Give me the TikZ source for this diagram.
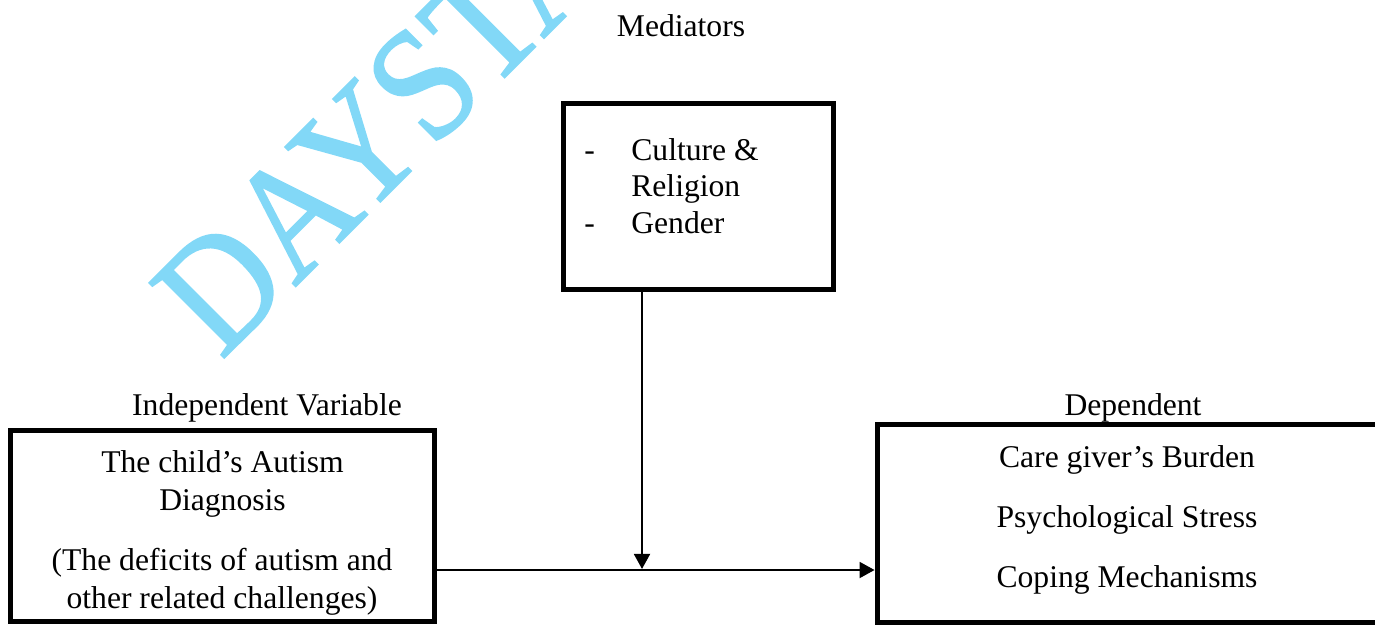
\documentclass[tikz,border=0pt]{standalone}
\usepackage{fontspec}
\usepackage{graphicx}
\setmainfont{Liberation Serif}
\newfontfamily\wmfont[FakeBold=1.2]{Liberation Serif}
\usetikzlibrary{arrows.meta}
\definecolor{wmblue}{RGB}{130,216,247}
\tikzset{
  box/.style={draw=black, line width=2.85pt, rectangle, inner sep=0pt},
  txt/.style={font=\fontsize{18}{21.6}\selectfont, inner sep=0pt, anchor=base},
  txtl/.style={txt, anchor=base west},
  conn/.style={draw=black, line width=1.1pt, -{Triangle[length=3mm,width=3.2mm]}},
  wm/.style={text=wmblue, inner sep=0pt, anchor=base west, rotate=45,
    font=\wmfont\fontsize{92}{100}\selectfont}
}
\begin{document}
\begin{tikzpicture}[x=0.02cm, y=-0.02cm]
\useasboundingbox (0,0) rectangle (1375,625);
% watermark
\node[wm] (wmark) at (221,361) {\scalebox{0.89}[1]{DAYSTA}};
% boxes
\node[box, minimum width=5.42cm, minimum height=3.74cm] (med) at (698.5,196.5) {};
\node[box, minimum width=8.5cm, minimum height=3.84cm] (indep) at (222.5,526) {};
\node[box, minimum width=10.04cm, minimum height=3.98cm] (dep) at (1128,523.5) {};
% titles
\node[txt] (tmed) at (681,37) {Mediators};
\node[txt] (tind) at (267,415) {Independent Variable};
\node[txt] (tdep) at (1133,415) {Dependent};
% mediator contents
\node[txtl] (d1) at (584,160) {-};
\node[txtl] (m1) at (631,160) {Culture \&};
\node[txtl] (m2) at (631,196) {Religion};
\node[txtl] (d2) at (584,233) {-};
\node[txtl] (m3) at (631,233) {Gender};
% independent contents
\node[txt] (i1) at (222.5,472) {The child’s Autism};
\node[txt] (i2) at (222.5,510) {Diagnosis};
\node[txt] (i3) at (222,570) {(The deficits of autism and};
\node[txt] (i4) at (222,608) {other related challenges)};
% dependent contents
\node[txt] (o1) at (1127,467) {Care giver’s Burden};
\node[txt] (o2) at (1127,527) {Psychological Stress};
\node[txt] (o3) at (1127,587) {Coping Mechanisms};
% connectors
\coordinate (j) at (642,570);
\draw[conn] (indep.east |- j) -- (dep.west |- j);
\draw[conn] (med.south -| j) -- ([yshift=0.6pt]j);
\end{tikzpicture}
\end{document}
